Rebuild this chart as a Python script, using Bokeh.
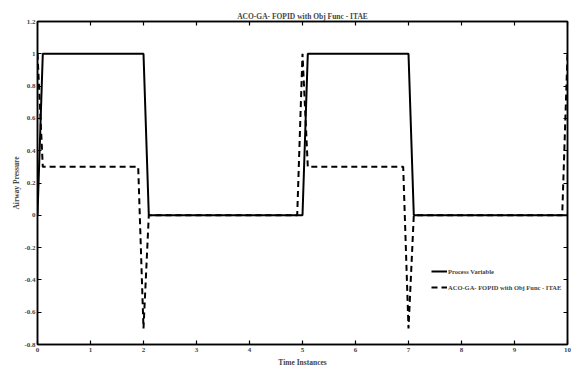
from bokeh.plotting import figure
from bokeh.models import LinearAxis, FixedTicker, Range1d, Legend, LegendItem
from bokeh.embed import file_html
from bokeh.resources import INLINE

# Data
t_pv = [0, 0.1, 2.0, 2.1, 5.0, 5.1, 7.0, 7.1, 10.0]
pv = [0, 1, 1, 0, 0, 1, 1, 0, 0]

t_ctrl = [0, 0.1, 1.9, 2.0, 2.1, 4.9, 5.0, 5.1, 6.9, 7.0, 7.1, 9.9, 10.0]
ctrl = [1, 0.3, 0.3, -0.7, 0, 0, 1, 0.3, 0.3, -0.7, 0, 0, 1]

x_ticks = [0, 1, 2, 3, 4, 5, 6, 7, 8, 9, 10]
y_ticks = [-0.8, -0.6, -0.4, -0.2, 0, 0.2, 0.4, 0.6, 0.8, 1.0, 1.2]
y_tick_labels = ["-0.8", "-0.6", "-0.4", "-0.2", "0", "0.2", "0.4", "0.6", "0.8", "1", "1.2"]

title_text = "ACO-GA- FOPID with Obj Func - ITAE"
xlabel = "Time Instances"
ylabel = "Airway Pressure"
names = ["Process Variable", "ACO-GA- FOPID with Obj Func - ITAE"]

FONT = "Liberation Serif"

p = figure(width=571, height=369, output_backend="svg", toolbar_location=None,
           x_range=Range1d(0, 10), y_range=Range1d(-0.8, 1.2),
           min_border_left=37, min_border_right=4, min_border_top=21, min_border_bottom=24)
p.background_fill_color = "white"
p.border_fill_color = "white"
p.outline_line_color = "black"
p.outline_line_width = 1.5
p.grid.visible = False

p.title.text = title_text
p.title.align = "center"
p.title.text_font = FONT
p.title.text_font_size = "7.5px"
p.title.text_font_style = "bold"
p.title.offset = 0
p.title.standoff = 2

r1 = p.line(t_pv, pv, line_color="black", line_width=2)
r2 = p.line(t_ctrl, ctrl, line_color="black", line_width=2, line_dash="6 4")

def style_axis(ax):
    ax.major_tick_in = 4
    ax.major_tick_out = 0
    ax.minor_tick_in = 0
    ax.minor_tick_out = 0
    ax.axis_line_width = 1.5
    ax.major_tick_line_width = 1.2
    ax.major_label_text_font = FONT
    ax.major_label_text_font_style = "bold"
    ax.major_label_text_font_size = "7px"
    ax.major_label_standoff = 3
    ax.axis_label_text_font = FONT
    ax.axis_label_text_font_style = "bold"
    ax.axis_label_text_font_size = "7.5px"
    ax.axis_label_standoff = 3

p.xaxis.ticker = FixedTicker(ticks=x_ticks)
p.yaxis.ticker = FixedTicker(ticks=y_ticks)
p.yaxis.major_label_overrides = {v: s for v, s in zip(y_ticks, y_tick_labels)}
p.xaxis.axis_label = xlabel
p.yaxis.axis_label = ylabel
for ax in p.xaxis + p.yaxis:
    style_axis(ax)
p.yaxis.axis_label_standoff = 0
p.yaxis.major_label_standoff = 2

top = LinearAxis(ticker=FixedTicker(ticks=x_ticks))
right = LinearAxis(ticker=FixedTicker(ticks=y_ticks))
style_axis(top)
style_axis(right)
top.major_label_overrides = {v: "" for v in x_ticks}
right.major_label_overrides = {v: "" for v in y_ticks}
top.major_label_standoff = 0
right.major_label_standoff = 0
p.add_layout(top, "above")
p.add_layout(right, "right")

legend = Legend(items=[LegendItem(label=names[0], renderers=[r1]),
                       LegendItem(label=names[1], renderers=[r2])],
                location=(392, 50))
legend.background_fill_alpha = 0
legend.border_line_alpha = 0
legend.label_text_font = FONT
legend.label_text_font_style = "bold"
legend.label_text_font_size = "6.5px"
legend.glyph_width = 16
legend.glyph_height = 10
legend.label_height = 10
legend.spacing = 6
legend.padding = 2
legend.margin = 0
legend.label_standoff = 1
p.add_layout(legend, "center")

open("out.html", "w").write(file_html(p, INLINE))
